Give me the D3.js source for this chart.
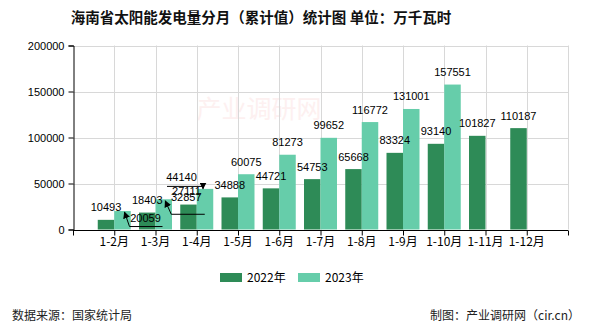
<!DOCTYPE html>
<html>
<head>
<meta charset="utf-8">
<script src="https://cdn.jsdelivr.net/npm/d3@7"></script>
<style>
  html, body { margin: 0; padding: 0; background: #fff; }
  svg { display: block; }
  text { font-family: "Liberation Sans", "Noto Sans CJK SC", sans-serif; }
  .cjk { font-family: "Noto Sans CJK SC", sans-serif; }
</style>
</head>
<body>
<script>
const titleText = "海南省太阳能发电量分月（累计值）统计图 单位：万千瓦时";
const categories = ["1-2月","1-3月","1-4月","1-5月","1-6月","1-7月","1-8月","1-9月","1-10月","1-11月","1-12月"];
const seriesNames = ["2022年","2023年"];
const values2022 = [10493, 18403, 27111, 34888, 44721, 54753, 65668, 83324, 93140, 101827, 110187];
const values2023 = [20059, 32857, 44140, 60075, 81273, 99652, 116772, 131001, 157551, null, null];
const yTicks = [0, 50000, 100000, 150000, 200000];
const sourceText = "数据来源：国家统计局";
const creditText = "制图：产业调研网（cir.cn）";

const W = 590, H = 330;
const colors = ["#2e8b57", "#66cdaa"];
const svg = d3.select("body").append("svg").attr("width", W).attr("height", H);

const x = d3.scaleLinear().domain([0, categories.length + 1]).range([73, 568]);
const y = d3.scaleLinear().domain([0, 200000]).range([229.5, 45.5]);
const barW = 16.5;

// watermark
svg.append("text").attr("class", "cjk")
  .attr("x", 259).attr("y", 118).attr("text-anchor", "middle")
  .attr("font-size", 25).attr("fill", "#fdf0f0").text("产业调研网");

// gridlines
const grid = svg.append("g").attr("stroke", "#d8d8d8").attr("stroke-width", 1);
yTicks.forEach(t => {
  if (t === 0) return;
  grid.append("line").attr("x1", 73).attr("x2", 568).attr("y1", Math.round(y(t)) + 0.5).attr("y2", Math.round(y(t)) + 0.5);
});
const xGridPos = categories.map((c, i) => i + 1).concat([categories.length + 1]);
xGridPos.forEach(p => {
  const px = Math.round(x(p)) + 0.5;
  grid.append("line").attr("x1", px).attr("x2", px).attr("y1", y(200000)).attr("y2", y(0));
});

// bars
const series = [values2022, values2023];
series.forEach((vals, s) => {
  svg.append("g").selectAll("rect").data(vals.map((v, i) => ({v, i})).filter(d => d.v != null))
    .enter().append("rect")
    .attr("x", d => s === 0 ? x(d.i + 1) - barW : x(d.i + 1))
    .attr("width", barW)
    .attr("y", d => y(d.v))
    .attr("height", d => y(0) - y(d.v))
    .attr("fill", colors[s]);
});

// axes
const yAxis = svg.append("g").attr("transform", "translate(73.5,0)")
  .call(d3.axisLeft(y).tickValues(yTicks).tickSize(5).tickPadding(4).tickFormat(d3.format("d")));
yAxis.selectAll("text").attr("font-size", 11).attr("fill", "#000").attr("font-family", "Liberation Sans, sans-serif");
yAxis.selectAll("line,path").attr("stroke", "#000");

const xAxis = svg.append("g").attr("transform", "translate(0," + (Math.round(y(0)) + 0.5) + ")")
  .call(d3.axisBottom(x).tickValues(d3.range(0, categories.length + 2)).tickSize(5).tickFormat(() => ""));
xAxis.selectAll("line,path").attr("stroke", "#000");
xAxis.select(".domain").attr("d", "M" + x(0) + ",0H" + x(categories.length + 1));

svg.append("g").selectAll("text").data(categories).enter().append("text")
  .attr("class", "cjk")
  .attr("x", (d, i) => x(i + 1)).attr("y", 246)
  .attr("text-anchor", "middle").attr("font-size", 12).attr("fill", "#000").text(d => d);

// labels
const defs = svg.append("defs");
defs.append("marker").attr("id", "arr").attr("viewBox", "0 0 10 10").attr("refX", 9).attr("refY", 5)
  .attr("markerWidth", 7).attr("markerHeight", 7).attr("orient", "auto-start-reverse")
  .append("path").attr("d", "M0,0L10,5L0,10z").attr("fill", "#000");

// label adjustments for overlapping labels (series-index) -> offsets and leader lines
const adjust = {
  "1-0": {dx: 23, dy: 19.5, line: [[2, 1], [7, 15.5], [40, 15.5]]},
  "1-1": {dx: 22.5, dy: 10, line: [[1.5, 1.5], [7.5, 15], [41, 15]]},
  "1-2": {dx: -23.5, dy: 1, line: [[-2, 0], [-2, -2.5], [-38, -2.5]]},
  "0-2": {dx: -2, dy: -1}
};
const labels = svg.append("g");
series.forEach((vals, s) => {
  vals.forEach((v, i) => {
    if (v == null) return;
    const bx = s === 0 ? x(i + 1) - barW / 2 : x(i + 1) + barW / 2;
    const by = y(v);
    const a = adjust[s + "-" + i] || {dx: 0, dy: 0};
    labels.append("text")
      .attr("x", bx + a.dx).attr("y", by - 8.5 + a.dy)
      .attr("text-anchor", "middle").attr("font-size", 11).attr("fill", "#000")
      .text(v);
    if (a.line) {
      const pts = a.line.map(p => [bx + p[0], by + p[1]]).reverse();
      labels.append("path").attr("d", d3.line()(pts))
        .attr("fill", "none").attr("stroke", "#000").attr("stroke-width", 1)
        .attr("marker-end", "url(#arr)");
    }
  });
});

// title
svg.append("text").attr("class", "cjk")
  .attr("x", 261).attr("y", 23).attr("text-anchor", "middle")
  .attr("font-size", 14.5).attr("font-weight", "bold").attr("fill", "#111").text(titleText);

// legend
const legendX = [220, 298];
seriesNames.forEach((n, s) => {
  svg.append("rect").attr("x", legendX[s]).attr("y", 273).attr("width", 22).attr("height", 9).attr("fill", colors[s]);
  svg.append("text").attr("class", "cjk").attr("x", legendX[s] + 27).attr("y", 282)
    .attr("font-size", 12).attr("fill", "#000").text(n);
});

// footer
svg.append("text").attr("class", "cjk").attr("x", 12).attr("y", 320)
  .attr("font-size", 12).attr("fill", "#222").text(sourceText);
svg.append("text").attr("class", "cjk").attr("x", 580).attr("y", 320).attr("text-anchor", "end")
  .attr("font-size", 12).attr("fill", "#222").text(creditText);
</script>
</body>
</html>
